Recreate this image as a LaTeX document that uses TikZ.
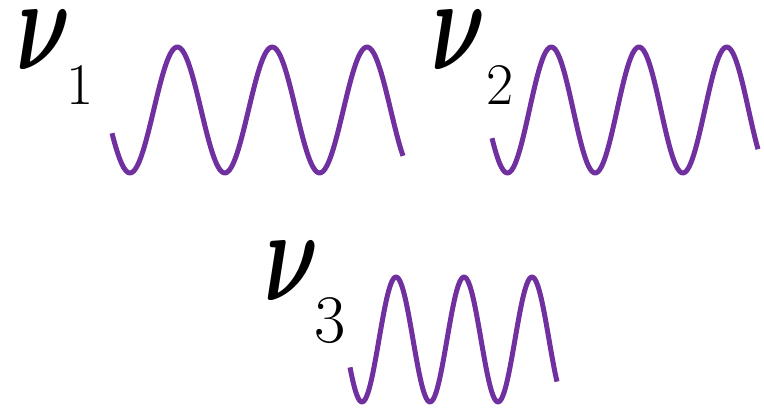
\RequirePackage{fix-cm}
\documentclass[tikz,border=0pt]{standalone}
\usepackage{bm}
\usetikzlibrary{positioning}
\definecolor{wavepurple}{RGB}{112,48,160}
\newcommand{\freqsym}{\scalebox{0.63}[1]{$\bm{\nu}$}}
\tikzset{
  wave/.style={draw=wavepurple, line width=5pt, line join=round},
  freq/.style={font=\fontsize{133}{133}\selectfont, inner sep=0pt, anchor=base west},
  idx/.style={font=\fontsize{59}{59}\selectfont, inner sep=0pt, anchor=base west}
}

\begin{document}
\begin{tikzpicture}[x=1pt, y=-1pt]
  \useasboundingbox (0,0) rectangle (764,409);

  % labels
  \node[freq] (nu1) at (16,70) {\freqsym};
  \node[idx] (sub1) at (66,105) {1};
  \node[freq] (nu2) at (431,70) {\freqsym};
  \node[idx] (sub2) at (486,105) {2};
  \node[freq] (nu3) at (264,300) {\freqsym};
  \node[idx, font=\fontsize{68}{68}\selectfont] (sub3) at (314,342) {3};

  % waves
  \draw[wave] plot[domain=112:403, samples=150, smooth] (\x, {110-63*cos((\x-177.4)/94.8*360)});
  \draw[wave] plot[domain=492:758, samples=150, smooth] (\x, {110-63*cos((\x-551.3)/87.7*360)});
  \draw[wave] plot[domain=350:557, samples=150, smooth] (\x, {339.5-62.5*cos((\x-396)/68*360)});
\end{tikzpicture}
\end{document}
